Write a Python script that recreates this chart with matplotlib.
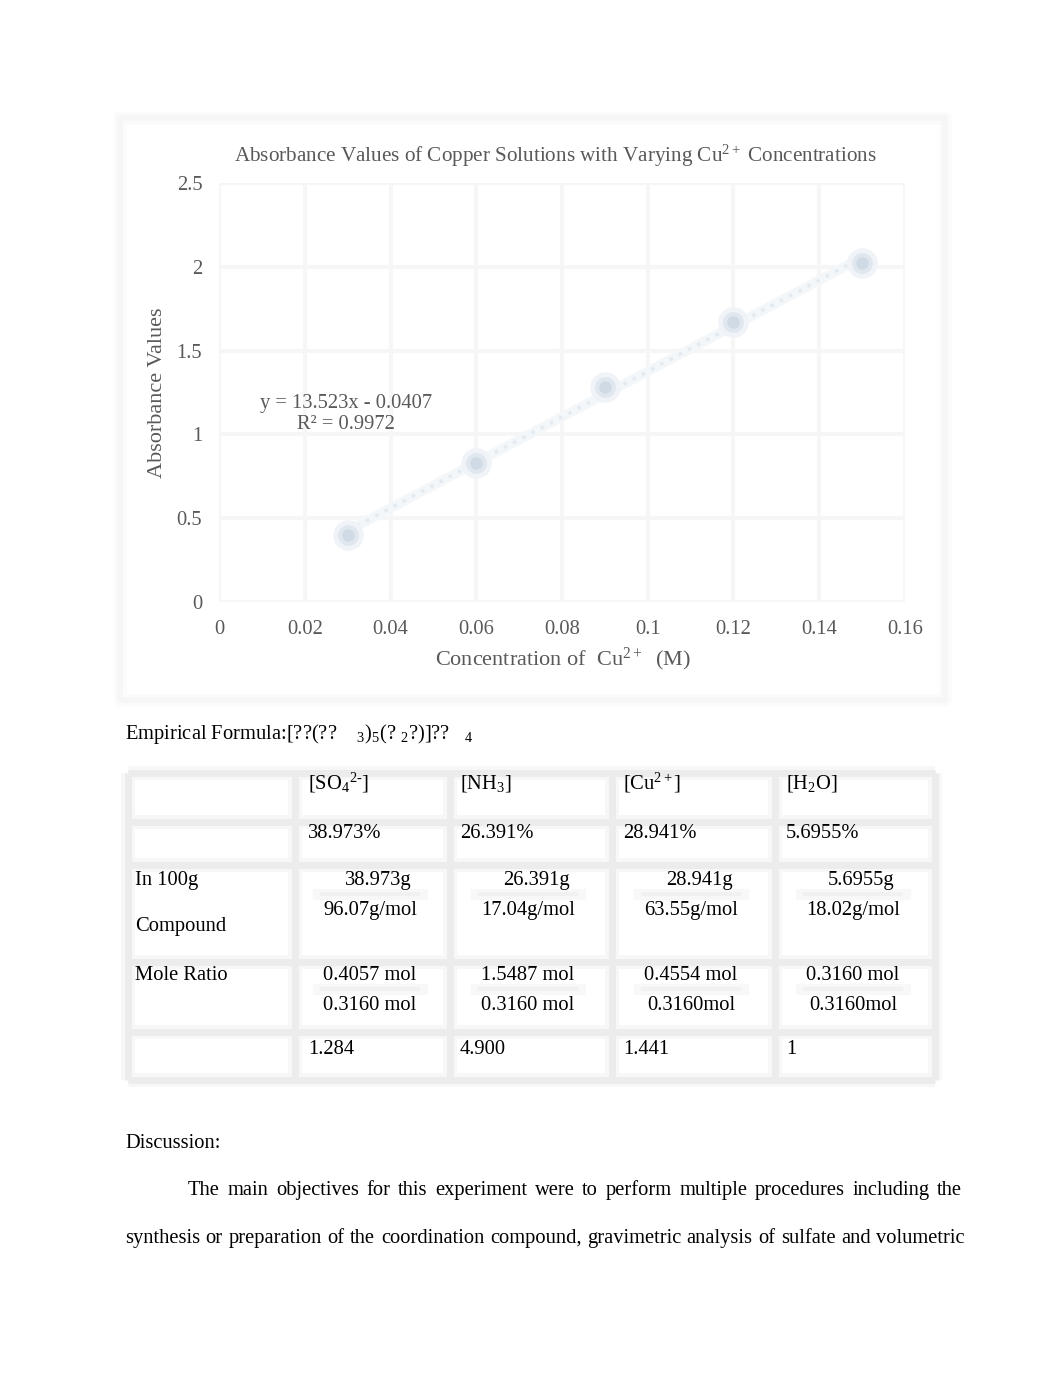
import numpy as np
import matplotlib
matplotlib.use("Agg")
import matplotlib.pyplot as plt

plt.rcParams['font.family'] = ['Liberation Serif', 'DejaVu Serif']
plt.rcParams['mathtext.fontset'] = 'custom'
plt.rcParams['mathtext.rm'] = 'Liberation Serif'
plt.rcParams['mathtext.it'] = 'Liberation Serif:italic'

# chart data
conc = [0.03, 0.06, 0.09, 0.12, 0.15]
absorb = [0.40, 0.83, 1.28, 1.67, 2.02]
eq_text = "y = 13.523x - 0.0407\nR² = 0.9972"

# table data
col_heads = ["[SO$_4$$^{2\\text{-}}$]", "[NH$_3$]", "[Cu$^{2+}$]", "[H$_2$O]"]
percents = ["38.973%", "26.391%", "28.941%", "5.6955%"]
grams = ["38.973g", "26.391g", "28.941g", "5.6955g"]
molar_mass = ["96.07g/mol", "17.04g/mol", "63.55g/mol", "18.02g/mol"]
moles = ["0.4057 mol", "1.5487 mol", "0.4554 mol", "0.3160 mol"]
min_moles = ["0.3160 mol", "0.3160 mol", "0.3160mol", "0.3160mol"]
ratios = ["1.284", "4.900", "1.441", "1"]

W, H = 1062, 1376
fig = plt.figure(figsize=(W / 100, H / 100), dpi=100)
fig.patch.set_facecolor('white')

# page overlay in pixel coordinates
bg = fig.add_axes([0, 0, 1, 1])
bg.set_xlim(0, W)
bg.set_ylim(H, 0)
bg.axis('off')

grey = '#595959'
fs = 14.8
dy = 2  # small baseline shift

# chart frame (faint, soft)
for lw, c in [(9, '#fbfbfb'), (4, '#f6f6f6')]:
    bg.plot([120, 945, 945, 120, 120], [118, 118, 700, 700, 118], color=c, lw=lw, zorder=0)

# chart
ax = fig.add_axes([219 / W, 1 - 602 / H, 686 / W, 419 / H])
ax.set_xlim(0, 0.16)
ax.set_ylim(0, 2.5)
ax.set_xticks(np.arange(0, 0.161, 0.02))
ax.set_yticks(np.arange(0, 2.51, 0.5))
ax.set_xticklabels(['0', '0.02', '0.04', '0.06', '0.08', '0.1', '0.12', '0.14', '0.16'])
ax.set_yticklabels(['0', '0.5', '1', '1.5', '2', '2.5'])
ax.grid(True, color='#fbfbfb', lw=9)
ax.grid(True, color='#f6f6f6', lw=3)
ax.set_axisbelow(True)
for s in ax.spines.values():
    s.set_visible(False)
ax.tick_params(length=0, labelsize=fs, colors=grey)
ax.tick_params(axis='y', pad=12)
ax.tick_params(axis='x', pad=13)
ax.patch.set_alpha(0)

coef = np.polyfit(conc, absorb, 1)
xs = np.array([min(conc), max(conc)])
ax.plot(xs, np.polyval(coef, xs), color='#f4f7f9', lw=7, zorder=2)
ax.plot(xs, np.polyval(coef, xs), ls=(0, (1, 2)), color='#e4eaf0', lw=2.5, zorder=2)
ax.plot(conc, absorb, 'o', ms=22, color='#f0f3f7', mec='none', zorder=3)
ax.plot(conc, absorb, 'o', ms=15, color='#e0e7ee', mec='none', zorder=3)
ax.plot(conc, absorb, 'o', ms=9, color='#cfdae4', mec='none', zorder=4)

ax.text(346, 414, eq_text, transform=bg.transData, ha='center', va='center',
        fontsize=fs, color=grey, linespacing=1.2, zorder=6)

bg.text(555, 154 + dy, "Absorbance Values of Copper Solutions with Varying Cu$^{2+}$ Concentrations",
        ha='center', va='center', fontsize=15.2, color=grey)
bg.text(563, 657 + dy, "Concentration of  Cu$^{2+}$  (M)", ha='center', va='center',
        fontsize=16, color=grey)
bg.text(158, 393, "Absorbance Values", ha='center', va='center', rotation=90,
        fontsize=16, color=grey)

# empirical formula
bg.text(125, 732 + dy, "Empirical Formula:[??(??    $_3$)$_5$(? $_2$?)]??   $_4$",
        ha='left', va='center', fontsize=fs, color='black')

# table grid (soft grey rules)
hx = [128, 295, 450, 612, 775, 935]
hy = [773, 822, 865, 962, 1032, 1080]
for lw, tcol in [(10, '#f7f7f7'), (5, '#ececec')]:
    for y in hy:
        bg.plot([hx[0], hx[-1]], [y, y], color=tcol, lw=lw, zorder=0, solid_capstyle='butt')
    for x in hx:
        bg.plot([x, x], [hy[0], hy[-1]], color=tcol, lw=lw, zorder=0, solid_capstyle='butt')

col_left = [308, 460, 623, 786]
frac_cx = [370, 528, 691, 853]
for i in range(4):
    bg.text(col_left[i], 781 + dy, col_heads[i], ha='left', va='center', fontsize=fs)
    bg.text(col_left[i], 831 + dy, percents[i], ha='left', va='center', fontsize=fs)
    bg.text(frac_cx[i] + 8, 879 + dy, grams[i], ha='center', va='center', fontsize=fs)
    bg.text(frac_cx[i], 909 + dy, molar_mass[i], ha='center', va='center', fontsize=fs)
    bg.text(frac_cx[i], 974 + dy, moles[i], ha='center', va='center', fontsize=fs)
    bg.text(frac_cx[i], 1003 + dy, min_moles[i], ha='center', va='center', fontsize=fs)
    bg.text(col_left[i], 1047 + dy, ratios[i], ha='left', va='center', fontsize=fs)
    for yy in (894, 989):
        bg.plot([frac_cx[i] - 52, frac_cx[i] + 52], [yy, yy], color='#f8f8f8', lw=8, zorder=0)
        bg.plot([frac_cx[i] - 48, frac_cx[i] + 48], [yy, yy], color='#f1f1f1', lw=3, zorder=0)

bg.text(135, 879 + dy, "In 100g", ha='left', va='center', fontsize=fs)
bg.text(135, 924 + dy, "Compound", ha='left', va='center', fontsize=fs)
bg.text(135, 974 + dy, "Mole Ratio", ha='left', va='center', fontsize=fs)

# discussion
bg.text(125, 1141 + dy, "Discussion:", ha='left', va='center', fontsize=fs)

renderer = fig.canvas.get_renderer()


def justified(line, x0, x1, y):
    # place words one by one on a shared baseline so the line fills x0..x1
    words = line.split()
    arts = [bg.text(0, y, w, ha='left', va='baseline', fontsize=fs) for w in words]
    widths = [a.get_window_extent(renderer).width for a in arts]
    gap = (x1 - x0 - sum(widths)) / (len(words) - 1)
    x = x0
    for a, w in zip(arts, widths):
        a.set_x(x)
        x += w + gap


justified("The main objectives for this experiment were to perform multiple procedures including the",
          188, 962, 1195)
justified("synthesis or preparation of the coordination compound, gravimetric analysis of sulfate and volumetric",
          125, 965, 1243)

fig.savefig('out.png', dpi=100, facecolor='white')
